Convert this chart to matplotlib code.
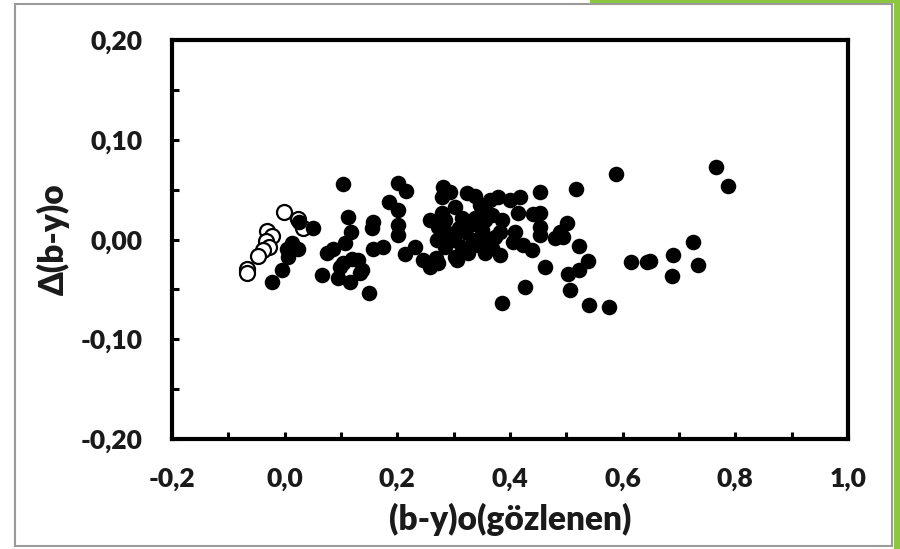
import matplotlib
matplotlib.use('Agg')
import matplotlib.pyplot as plt
from matplotlib.patches import Rectangle
import numpy as np

# hollow (open circle) stars
open_x = [-0.001, 0.024, 0.033, -0.031, -0.022, -0.033, -0.028, -0.038, -0.047, -0.067, -0.067]
open_y = [0.028, 0.021, 0.012, 0.009, 0.004, -0.002, -0.008, -0.011, -0.017, -0.030, -0.034]

# filled stars
filled_x = [0.025, 0.050, 0.013, 0.024, 0.006, 0.004, -0.005, -0.022, 0.075, 0.066,
            0.104, 0.201, 0.215, 0.185, 0.201, 0.112, 0.157, 0.155, 0.201, 0.201,
            0.118, 0.107, 0.086, 0.098, 0.130, 0.137, 0.095, 0.116, 0.134, 0.104,
            0.120, 0.157, 0.175, 0.150, 0.214, 0.231, 0.246, 0.258, 0.269, 0.258,
            0.281, 0.279, 0.294, 0.324, 0.338, 0.379, 0.400, 0.418, 0.302, 0.350,
            0.279, 0.414, 0.441, 0.409, 0.405, 0.423, 0.439, 0.382, 0.272, 0.306,
            0.427, 0.386, 0.285, 0.315, 0.338, 0.368, 0.386, 0.290, 0.320, 0.350,
            0.373, 0.285, 0.315, 0.343, 0.368, 0.325, 0.302, 0.356, 0.270, 0.272,
            0.329, 0.361, 0.382, 0.347, 0.365, 0.300, 0.335, 0.355, 0.310,
            0.588, 0.517, 0.453, 0.453, 0.453, 0.453, 0.501, 0.489, 0.480, 0.494,
            0.523, 0.539, 0.523, 0.503, 0.462, 0.507, 0.540, 0.576, 0.615, 0.643,
            0.649, 0.766, 0.787, 0.725, 0.689, 0.734, 0.688]
filled_y = [0.018, 0.012, -0.004, -0.010, -0.018, -0.010, -0.031, -0.043, -0.014, -0.036,
            0.056, 0.057, 0.049, 0.038, 0.030, 0.023, 0.018, 0.012, 0.015, 0.005,
            0.008, -0.004, -0.010, -0.028, -0.021, -0.031, -0.039, -0.043, -0.034, -0.024,
            -0.020, -0.010, -0.008, -0.054, -0.015, -0.008, -0.021, -0.028, -0.019, 0.020,
            0.053, 0.043, 0.048, 0.047, 0.044, 0.043, 0.040, 0.043, 0.033, 0.030,
            0.027, 0.027, 0.026, 0.008, -0.003, -0.006, -0.011, -0.016, -0.024, -0.021,
            -0.048, -0.064, 0.020, 0.022, 0.022, 0.025, 0.020, 0.007, 0.008, 0.010,
            0.003, -0.008, -0.008, -0.006, -0.009, -0.014, -0.018, -0.014, 0.000, 0.013,
            0.015, 0.000, 0.008, 0.035, 0.040, 0.000, 0.000, 0.020, 0.012,
            0.066, 0.051, 0.048, 0.027, 0.013, 0.005, 0.017, 0.008, 0.002, 0.003,
            -0.007, -0.022, -0.031, -0.035, -0.028, -0.051, -0.066, -0.068, -0.023, -0.023,
            -0.022, 0.073, 0.054, -0.003, -0.016, -0.026, -0.037]

x_ticks = [-0.2, 0.0, 0.2, 0.4, 0.6, 0.8, 1.0]
x_labels = ['-0,2', '0,0', '0,2', '0,4', '0,6', '0,8', '1,0']
y_ticks = [-0.2, -0.1, 0.0, 0.1, 0.2]
y_labels = ['-0,20', '-0,10', '0,00', '0,10', '0,20']

plt.rcParams['font.family'] = ['Lato', 'DejaVu Sans']

fig = plt.figure(figsize=(9, 5.49), dpi=100)
ax = fig.add_axes([172/900, 1-439/549, 676/900, 399/549])

# open circles first, filled ones drawn over them
ax.plot(open_x, open_y, 'o', markerfacecolor='white', markeredgecolor='black',
        markersize=10.8, markeredgewidth=1.6)
ax.plot(filled_x, filled_y, 'o', color='black', markersize=11.2, markeredgewidth=0)

ax.set_xlim(-0.2, 1.0)
ax.set_ylim(-0.2, 0.2)
ax.set_xticks(x_ticks)
ax.set_xticklabels(x_labels)
ax.set_yticks(y_ticks)
ax.set_yticklabels(y_labels)
ax.set_xticks(np.arange(-0.1, 1.0, 0.2), minor=True)
ax.set_yticks(np.arange(-0.15, 0.2, 0.1), minor=True)
ax.tick_params(which='both', direction='in', length=5, width=2.2, color='black')
ax.tick_params(axis='both', which='major', labelsize=19)
ax.tick_params(axis='x', which='major', pad=20)
ax.tick_params(axis='y', which='major', pad=21)
for lab in ax.get_xticklabels() + ax.get_yticklabels():
    lab.set_fontweight('heavy')
    lab.set_color('#1a1a1a')
for sp in ax.spines.values():
    sp.set_linewidth(3)

ax.set_xlabel('(b-y)o(gözlenen)', fontsize=24, fontweight='heavy', color='#1a1a1a', labelpad=9)
ax.set_ylabel('Δ(b-y)o', fontsize=24, fontweight='heavy', color='#1a1a1a', labelpad=8)

# outer frame and green strip
fig.patches.append(Rectangle((15/900, 3/549), 877/900, 542/549, transform=fig.transFigure,
                             fill=False, edgecolor='#9a9a9a', linewidth=1.5))
fig.patches.append(Rectangle((894/900, 0), 6/900, 1, transform=fig.transFigure,
                             facecolor='#8dc63f', edgecolor='none'))
fig.patches.append(Rectangle((590/900, 1-3/549), 310/900, 3/549, transform=fig.transFigure,
                             facecolor='#8dc63f', edgecolor='none'))

plt.savefig('out.png', dpi=100)
